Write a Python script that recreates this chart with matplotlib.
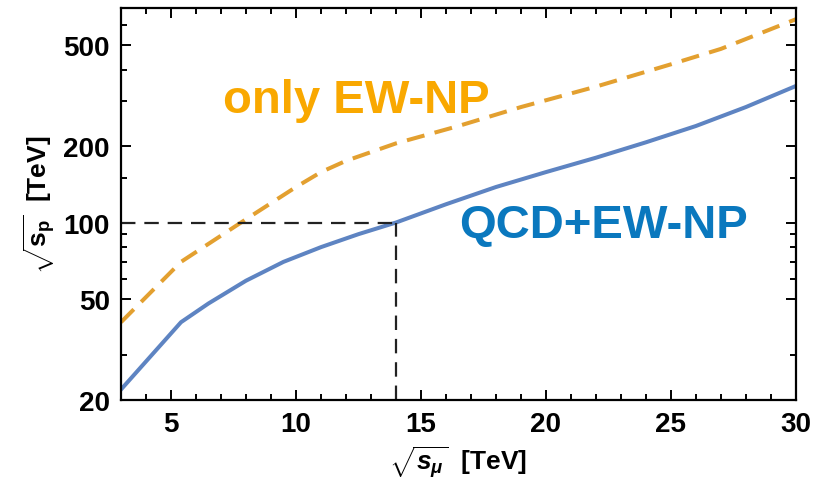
import matplotlib
matplotlib.use("Agg")
import matplotlib.pyplot as plt
from matplotlib.ticker import FixedLocator, NullFormatter

# kurvedata lest av figuren
x_qcd = [3, 5.4, 6.5, 8, 9.5, 11, 12.5, 14, 16, 18, 20, 22, 24, 26, 28, 30]
y_qcd = [22, 40.5, 48, 59, 70, 80, 90, 100, 118, 138, 158, 180, 207, 240, 285, 345]
x_ew = [3, 5.4, 8, 10, 11, 12, 14, 16.5, 19, 22, 25, 27, 30]
y_ew = [40.5, 70, 103, 138, 158, 175, 205, 240, 285, 343, 420, 483, 632]

x_major = [5, 10, 15, 20, 25, 30]
x_minor = list(range(3, 31))
y_major = [20, 50, 100, 200, 500]
y_minor = [30, 60, 70, 80, 90, 150, 300, 400, 600]

plt.rcParams['font.family'] = ['Liberation Sans', 'DejaVu Sans']
plt.rcParams['font.weight'] = 'bold'
plt.rcParams['mathtext.fontset'] = 'custom'
plt.rcParams['mathtext.rm'] = 'Liberation Sans:bold'
plt.rcParams['mathtext.it'] = 'Liberation Sans:italic:bold'
plt.rcParams['mathtext.bf'] = 'Liberation Sans:bold'

fig = plt.figure(figsize=(8.15, 4.89), dpi=100)
ax = fig.add_axes([0.1485, 0.18, 0.828, 0.8016])

ax.plot(x_ew, y_ew, color='#E3A030', lw=2.9, dashes=(4.5, 2.6))
ax.plot(x_qcd, y_qcd, color='#5E84C2', lw=2.9)

# hjelpelinjer ved 14 TeV / 100 TeV
ax.plot([3, 14], [100, 100], color='#222222', lw=1.6, dashes=(6.5, 4))
ax.plot([14, 14], [20, 100], color='#222222', lw=1.6, dashes=(6.5, 4))

ax.set_yscale('log')
ax.set_xlim(3, 30)
ax.set_ylim(20, 700)

ax.xaxis.set_major_locator(FixedLocator(x_major))
ax.xaxis.set_minor_locator(FixedLocator(x_minor))
ax.yaxis.set_major_locator(FixedLocator(y_major))
ax.yaxis.set_minor_locator(FixedLocator(y_minor))
ax.set_xticklabels([str(v) for v in x_major], fontweight='bold')
ax.set_yticklabels([str(v) for v in y_major], fontweight='bold')
ax.yaxis.set_minor_formatter(NullFormatter())

ax.tick_params(which='both', direction='in', top=True, right=True,
               labelsize=20, width=1.4, pad=8)
ax.tick_params(which='major', length=7)
ax.tick_params(which='minor', length=4)
for s in ax.spines.values():
    s.set_linewidth(1.6)

ax.set_xlabel(r'$\sqrt{s_{\mu}}$  [TeV]', fontsize=19, labelpad=5, fontweight='bold')
ax.set_ylabel(r'$\sqrt{\mathrm{s}_\mathrm{p}}$  [TeV]', fontsize=19, labelpad=4,
              fontweight='bold')

ax.text(12.4, 305, 'only EW-NP', color='#F9A800', fontsize=34,
        fontweight='bold', ha='center', va='center')
ax.text(22.3, 98, 'QCD+EW-NP', color='#0A78BE', fontsize=34,
        fontweight='bold', ha='center', va='center')

fig.savefig('out.png', dpi=100)
